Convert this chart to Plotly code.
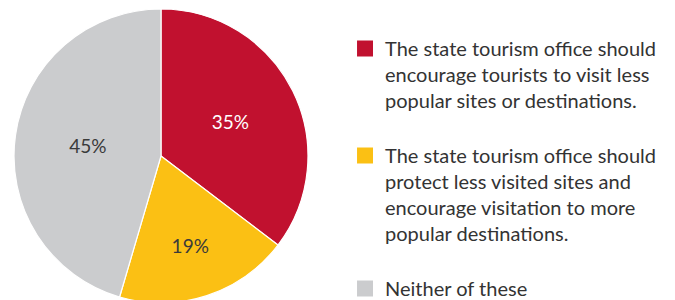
import plotly.graph_objects as go

labels = [
    "The state tourism office should<br>encourage tourists to visit less<br>popular sites or destinations.<br> ",
    "The state tourism office should<br>protect less visited sites and<br>encourage visitation to more<br>popular destinations.<br> ",
    "Neither of these",
]
values = [35, 19, 45]
pct_text = ["35%", "19%", "45%"]
colors = ["#C1112F", "#FBC014", "#CBCCCE"]
text_colors = ["#FFFFFF", "#3A3A3A", "#3A3A3A"]

fig = go.Figure()
fig.add_trace(go.Pie(
    labels=labels,
    values=values,
    text=pct_text,
    textinfo="text",
    textposition="inside",
    insidetextfont=dict(color=text_colors, size=19, family="Lato"),
    marker=dict(colors=colors, line=dict(color="white", width=1.2)),
    sort=False,
    direction="clockwise",
    rotation=0,
    domain=dict(x=[0.0089, 0.4444], y=[0.0167, 0.9967]),
    hoverinfo="skip",
    showlegend=False,
))

# legend entries with square swatches
for lab, col in zip(labels, colors):
    fig.add_trace(go.Scatter(
        x=[None], y=[None], mode="markers", name=lab,
        marker=dict(symbol="square", size=17, color=col),
        hoverinfo="skip",
    ))

fig.update_layout(
    width=675, height=300,
    margin=dict(l=0, r=0, t=0, b=0),
    paper_bgcolor="white",
    plot_bgcolor="white",
    xaxis=dict(visible=False),
    yaxis=dict(visible=False),
    showlegend=True,
    legend=dict(
        x=0.4993, y=0.93, xanchor="left", yanchor="top",
        valign="top",
        font=dict(family="Lato", size=20, color="#333333"),
        tracegroupgap=0,
        bgcolor="rgba(0,0,0,0)",
    ),
)

fig.write_html("out.html")
